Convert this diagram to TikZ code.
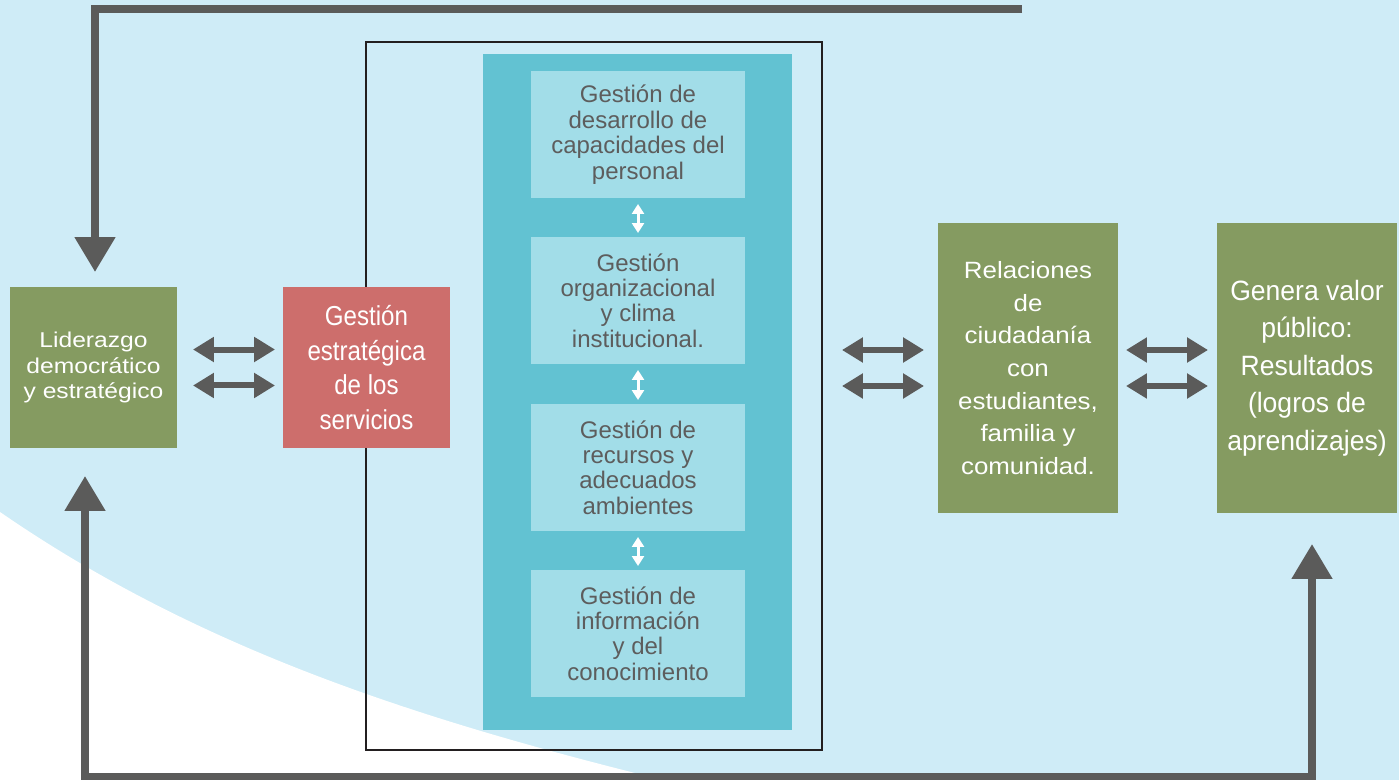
\documentclass[tikz,border=0pt]{standalone}
\usepackage{fontspec}
\setmainfont{Liberation Sans}
\newfontfamily\redfont{Liberation Sans}[FakeStretch=0.88]
\newfontfamily\lidfont{Liberation Sans}[FakeStretch=1.15]
\newfontfamily\relfont{Liberation Sans}[FakeStretch=1.1]
\newfontfamily\valfont{Liberation Sans}[FakeStretch=0.95]
\usepackage{tikz}
\usetikzlibrary{arrows.meta}
\definecolor{fondo}{HTML}{CFECF7}
\definecolor{turq}{HTML}{62C2D2}
\definecolor{turqclaro}{HTML}{A2DDE8}
\definecolor{verde}{HTML}{859B61}
\definecolor{rojo}{HTML}{CD6E6C}
\definecolor{flecha}{HTML}{5B5B5A}
\definecolor{letra}{HTML}{5D5D5D}
\definecolor{marco}{HTML}{231F20}

\begin{document}
\begin{tikzpicture}[x=0.02cm, y=-0.02cm]
\tikzstyle{caja}=[inner sep=0pt, outer sep=0pt, align=center]
\tikzstyle{gest}=[caja, fill=turqclaro, text=letra, minimum width=4.28cm, minimum height=2.54cm,
                  font=\fontsize{13.66}{14.5}\selectfont]
\tikzstyle{vbox}=[caja, fill=verde, text=white]
\tikzstyle{big}=[flecha, line width=0.16cm, -{Triangle[length=0.7cm, width=0.78cm]}]
\tikzstyle{dbl}=[flecha, line width=0.12cm, {Triangle[length=0.42cm, width=0.48cm]}-{Triangle[length=0.42cm, width=0.48cm]}]
\tikzstyle{sml}=[white, line width=0.06cm, {Triangle[length=0.2cm, width=0.24cm]}-{Triangle[length=0.2cm, width=0.24cm]}]
\useasboundingbox (0,0) rectangle (1399,780);
\fill[fondo] (0,0) rectangle (1399,780);
\fill[white] (0,512) .. controls (200,650) and (420,720) .. (663,780) -- (0,780) -- cycle;
%% marco y columna de gestion
\node[caja, draw=marco, line width=0.04cm, minimum width=9.12cm, minimum height=14.16cm] (frame) at (594,396) {};
\node[caja, fill=turq, minimum width=6.18cm, minimum height=13.52cm] (col) at (637.5,392) {};
\node[gest] (g1) at (638,134.5) {Gestión de\\desarrollo de\\capacidades del\\personal};
\node[gest] (g2) at (638,300.5) {Gestión\\organizacional\\y clima\\institucional.};
\node[gest] (g3) at (638,467.5) {Gestión de\\recursos y\\adecuados\\ambientes};
\node[gest] (g4) at (638,633.5) {Gestión de\\información\\y del\\conocimiento};
\foreach \i/\j in {g1/g2,g2/g3,g3/g4}{\draw[sml, shorten <=0.12cm, shorten >=0.08cm] (\i.south) -- (\j.north);}
%% cajas
\node[vbox, minimum width=3.34cm, minimum height=3.22cm, font=\lidfont\fontsize{12.2}{14.5}\selectfont] (lid) at (93.5,367.5)
  {Liderazgo\\democrático\\y estratégico};
\node[caja, fill=rojo, text=white, minimum width=3.34cm, minimum height=3.22cm, font=\redfont\fontsize{15.6}{19.8}\selectfont] (serv) at (366.5,367.5)
  {Gestión\\estratégica\\de los\\servicios};
\node[vbox, minimum width=3.6cm, minimum height=5.8cm, font=\relfont\fontsize{13.4}{18.6}\selectfont] (rel) at (1028,368)
  {Relaciones\\de\\ciudadanía\\con\\estudiantes,\\familia y\\comunidad.};
\node[vbox, minimum width=3.6cm, minimum height=5.8cm, font=\valfont\fontsize{15.9}{21.3}\selectfont] (valor) at (1307,368)
  {Genera valor\\público:\\Resultados\\(logros de\\aprendizajes)};
\foreach \a/\b/\s/\t in {lid/serv/.32/.16, frame/rel/.4/.28, rel/valor/.16/.18}{
  \foreach \d in {.36,-.36}{\draw[dbl, shorten <=\s cm, shorten >=\t cm] ([yshift=\d cm]\a.east |- \b.west) -- ([yshift=\d cm]\b.west);}}
%% retroalimentacion
\coordinate (top) at (1022,9);
\coordinate (bot) at (0,777);
\draw[big, shorten >=0.3cm] (top) -| ([xshift=0.03cm]lid.north);
\draw[big, {Triangle[length=0.7cm, width=0.78cm]}-{Triangle[length=0.7cm, width=0.78cm]}, shorten <=0.56cm, shorten >=0.62cm]
  ([xshift=-0.17cm]lid.south) -- ([xshift=-0.17cm]lid.south |- bot) -| ([xshift=0.1cm]valor.south);
\end{tikzpicture}
\end{document}
